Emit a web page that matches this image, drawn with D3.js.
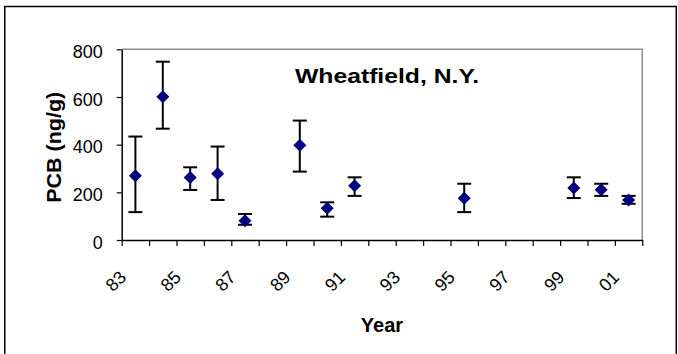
<!DOCTYPE html>
<html>
<head>
<meta charset="utf-8">
<script src="https://cdn.jsdelivr.net/npm/d3@7"></script>
<style>
  body { margin: 0; background: #fff; }
  svg { display: block; font-family: Arial, 'Liberation Sans', sans-serif; }
</style>
</head>
<body>
<div id="chart"></div>
<script>
// all years on the category axis
const categories = ['83','84','85','86','87','88','89','90','91','92','93','94','95','96','97','98','99','00','01'];
const labelYears = ['83','85','87','89','91','93','95','97','99','01'];
const yTicks = [0, 200, 400, 600, 800];

// sampled years, mean PCB and error bar ends
const years = ['83','84','85','86','87','89','90','91','95','99','00','01'];
const pcb   = [270, 601, 262, 278, 81, 397, 133, 228, 175, 218, 211, 168];
const upper = [434, 748, 305, 392, 109, 501, 158, 263, 236, 263, 236, 185];
const lower = [117, 467, 210, 168, 64, 287, 98, 185, 117, 176, 185, 152];

const width = 678;
const height = 354;
const plotLeft = 121.7, plotRight = 642.3, plotTop = 49.3, plotBottom = 240;

const svg = d3.select('#chart')
  .append('svg')
  .attr('width', width)
  .attr('height', height);

// outer chart border (bottom edge runs off the picture)
svg.append('rect')
  .attr('x', 4.75).attr('y', 6.5)
  .attr('width', 671.5).attr('height', 360)
  .attr('fill', 'none')
  .attr('stroke', '#000')
  .attr('stroke-width', 1.5);

const x = d3.scaleBand()
  .domain(categories)
  .range([plotLeft, plotRight])
  .padding(0);

const xEdge = d3.scaleLinear()
  .domain([0, categories.length])
  .range([plotLeft, plotRight]);

const y = d3.scaleLinear()
  .domain([0, 800])
  .range([plotBottom, plotTop]);

// plot area frame: gray top and right
svg.append('path')
  .attr('d', `M${plotLeft},${plotTop}H${plotRight}V${plotBottom}`)
  .attr('fill', 'none')
  .attr('stroke', '#8c8c8c')
  .attr('stroke-width', 1.5);

// x axis: ticks between categories
svg.append('g')
  .attr('transform', 'translate(0,' + plotBottom + ')')
  .call(d3.axisBottom(xEdge).tickValues(d3.range(categories.length + 1)).tickFormat('').tickSize(6).tickSizeOuter(0))
  .call(g => g.select('.domain').attr('stroke', '#000').attr('stroke-width', 1.5))
  .call(g => g.selectAll('.tick line').attr('stroke', '#000').attr('stroke-width', 1.2));

svg.append('g')
  .selectAll('text')
  .data(labelYears)
  .enter()
  .append('text')
  .attr('transform', d => 'translate(' + (x(d) + x.bandwidth() / 2 - 19.7) + ',281) rotate(-45)')
  .attr('text-anchor', 'middle')
  .attr('dy', '0.35em')
  .attr('font-size', 18)
  .attr('fill', '#000')
  .text(d => d);

// y axis
svg.append('g')
  .attr('transform', 'translate(' + plotLeft + ',0)')
  .call(d3.axisLeft(y).tickValues(yTicks).tickSize(5).tickSizeOuter(0).tickPadding(14))
  .call(g => g.select('.domain').attr('stroke', '#000').attr('stroke-width', 1.5))
  .call(g => g.selectAll('.tick line').attr('stroke', '#000').attr('stroke-width', 1.2))
  .call(g => g.selectAll('.tick text').attr('font-size', 18).attr('fill', '#000').attr('font-family', null).attr('dy', '0.45em'));

// error bars
const cx = d => x(d) + x.bandwidth() / 2;
const bars = svg.append('g')
  .selectAll('g')
  .data(years.map((d, i) => ({ year: d, v: pcb[i], hi: upper[i], lo: lower[i] })))
  .enter()
  .append('g')
  .attr('stroke', '#000')
  .attr('stroke-width', 2);

bars.append('line')
  .attr('x1', d => cx(d.year)).attr('x2', d => cx(d.year))
  .attr('y1', d => y(d.hi)).attr('y2', d => y(d.lo));
bars.append('line')
  .attr('x1', d => cx(d.year) - 7).attr('x2', d => cx(d.year) + 7)
  .attr('y1', d => y(d.hi)).attr('y2', d => y(d.hi));
bars.append('line')
  .attr('x1', d => cx(d.year) - 7).attr('x2', d => cx(d.year) + 7)
  .attr('y1', d => y(d.lo)).attr('y2', d => y(d.lo));

// diamond markers
svg.append('g')
  .selectAll('path')
  .data(years)
  .enter()
  .append('path')
  .attr('d', (d, i) => {
    const px = cx(d), py = y(pcb[i]), r = 6.5;
    return `M${px},${py - r}L${px + r},${py}L${px},${py + r}L${px - r},${py}Z`;
  })
  .attr('fill', '#000080');

// titles
svg.append('text')
  .attr('x', 387).attr('y', 83)
  .attr('text-anchor', 'middle')
  .attr('font-size', 20)
  .attr('font-weight', 'bold')
  .attr('textLength', 184)
  .attr('lengthAdjust', 'spacingAndGlyphs')
  .text('Wheatfield, N.Y.');

svg.append('text')
  .attr('transform', 'translate(61,147.3) rotate(-90)')
  .attr('text-anchor', 'middle')
  .attr('font-size', 20)
  .attr('font-weight', 'bold')
  .attr('textLength', 111)
  .attr('lengthAdjust', 'spacingAndGlyphs')
  .text('PCB (ng/g)');

svg.append('text')
  .attr('x', (plotLeft + plotRight) / 2).attr('y', 332)
  .attr('text-anchor', 'middle')
  .attr('font-size', 20)
  .attr('font-weight', 'bold')
  .text('Year');
</script>
</body>
</html>
